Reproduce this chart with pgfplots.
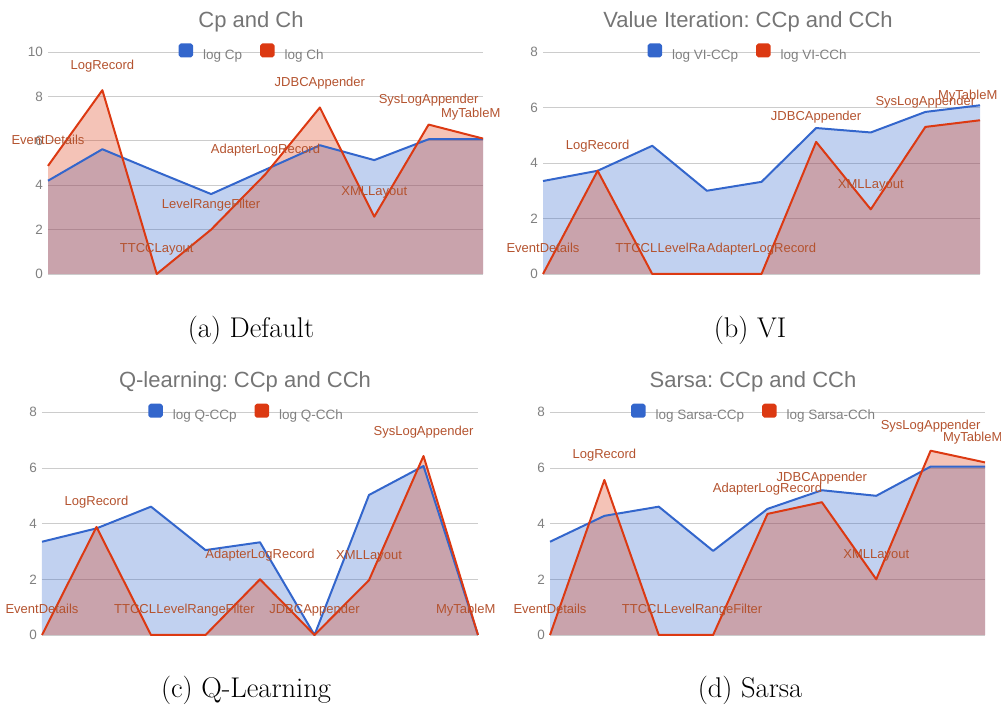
\documentclass[border=0pt]{standalone}
\usepackage{pgfplots}
\usepackage{pgfplotstable}
\pgfplotsset{compat=1.18}
\usepackage{fontspec}
\newfontfamily\gfont{Liberation Sans}
\frenchspacing
\definecolor{cblue}{HTML}{3366CC}
\definecolor{cred}{HTML}{DC3912}
\definecolor{lblred}{HTML}{B4532F}
\definecolor{titlegray}{HTML}{757575}
\definecolor{tickgray}{HTML}{808080}
\definecolor{gridgray}{HTML}{CCCCCC}

\protected\def\TTCCtr{\rlap{TTCCL}\hphantom{TTCCLayout}}
\protected\def\LRFtr{\rlap{LevelRa}\hphantom{LevelRangeFilter}}
\protected\def\MyTr{\rlap{MyTableM}\hphantom{MyTableModel}}

\pgfplotstableread{
x cp ch lbl
0 4.20 4.87 EventDetails
1 5.62 8.28 LogRecord
2 4.60 0 TTCCLayout
3 3.60 2.00 LevelRangeFilter
4 4.70 4.50 AdapterLogRecord
5 5.80 7.50 JDBCAppender
6 5.13 2.58 XMLLayout
7 6.07 6.73 SysLogAppender
8 6.07 6.10 \MyTr
}\tblA
\pgfplotstableread{
x cp ch lbl
0 3.35 0 EventDetails
1 3.72 3.72 LogRecord
2 4.62 0 \TTCCtr
3 3.00 0 \LRFtr
4 3.32 0 AdapterLogRecord
5 5.26 4.76 JDBCAppender
6 5.10 2.33 XMLLayout
7 5.84 5.30 SysLogAppender
8 6.08 5.54 \MyTr
}\tblB
\pgfplotstableread{
x cp ch lbl
0 3.35 0 EventDetails
1 3.83 3.88 LogRecord
2 4.61 0 \TTCCtr
3 3.05 0 LevelRangeFilter
4 3.33 2.00 AdapterLogRecord
5 0 0 JDBCAppender
6 5.03 1.97 XMLLayout
7 6.07 6.43 SysLogAppender
8 0 0 \MyTr
}\tblC
\pgfplotstableread{
x cp ch lbl
0 3.35 0 EventDetails
1 4.28 5.57 LogRecord
2 4.61 0 \TTCCtr
3 3.02 0 LevelRangeFilter
4 4.53 4.35 AdapterLogRecord
5 5.20 4.77 JDBCAppender
6 5.00 2.00 XMLLayout
7 6.05 6.62 SysLogAppender
8 6.05 6.20 \MyTr
}\tblD

\pgfplotsset{
  gchart/.style={
    scale only axis,
    anchor=south west,
    xmin=0, xmax=8,
    ymin=0,
    axis line style={draw=none},
    xtick=\empty,
    ymajorgrids,
    major grid style={draw=gridgray, line width=0.8pt},
    major tick length=0pt,
    /pgf/number format/assume math mode=true,
    yticklabel style={font=\gfont\fontsize{13.5}{15}\selectfont, text=tickgray, inner sep=0pt, xshift=-5pt},
    extra y ticks={0}, extra y tick labels={},
    extra y tick style={grid style={draw=black!75, line width=1pt}},
    clip=false,
    legend columns=2,
    legend style={at={(0.467,1)}, anchor=center, draw=none, fill=none,
      font=\gfont\fontsize{13.5}{15}\selectfont, text=tickgray,
      nodes={inner sep=0pt},
      /tikz/every odd column/.append style={column sep=10pt},
      /tikz/every even column/.append style={column sep=18pt}},
  },
  barea/.style={fill=cblue, fill opacity=0.3, draw=none, forget plot},
  rarea/.style={fill=cred, fill opacity=0.3, draw=none, forget plot},
  bline/.style={cblue, line width=2pt, line join=round, mark=none,
    legend image code/.code={\fill[cblue, rounded corners=1.5pt] (0pt,-1.5pt) rectangle (12.5pt,10.5pt);}},
  rline/.style={cred, line width=2pt, line join=round, mark=none,
    legend image code/.code={\fill[cred, rounded corners=1.5pt] (0pt,-1.5pt) rectangle (12.5pt,10.5pt);},
    nodes near coords, point meta=explicit symbolic,
    every node near coord/.append style={font=\gfont\fontsize{13}{15}\selectfont, text=lblred, anchor=base, inner sep=0pt, yshift=21pt}},
}

\begin{document}
\begin{tikzpicture}
\useasboundingbox (0pt,0pt) rectangle (1001pt,708pt);

% (a)
\begin{axis}[gchart, at={(48pt,434pt)}, width=435pt, height=222pt, ymax=10, ytick={0,2,4,6,8,10}]
\addplot[barea] table[x=x,y=cp]{\tblA} \closedcycle;
\addplot[rarea] table[x=x,y=ch]{\tblA} \closedcycle;
\addplot[bline] table[x=x,y=cp]{\tblA};
\addlegendentry{log Cp}
\addplot[rline] table[x=x,y=ch,meta=lbl]{\tblA};
\addlegendentry{log Ch}
\end{axis}

% (b)
\begin{axis}[gchart, at={(543pt,434pt)}, width=437pt, height=222pt, ymax=8, ytick={0,2,4,6,8}]
\addplot[barea] table[x=x,y=cp]{\tblB} \closedcycle;
\addplot[rarea] table[x=x,y=ch]{\tblB} \closedcycle;
\addplot[bline] table[x=x,y=cp]{\tblB};
\addlegendentry{log VI-CCp}
\addplot[rline] table[x=x,y=ch,meta=lbl]{\tblB};
\addlegendentry{log VI-CCh}
\end{axis}

% (c)
\begin{axis}[gchart, at={(42pt,73pt)}, width=436pt, height=222.7pt, ymax=8, ytick={0,2,4,6,8}]
\addplot[barea] table[x=x,y=cp]{\tblC} \closedcycle;
\addplot[rarea] table[x=x,y=ch]{\tblC} \closedcycle;
\addplot[bline] table[x=x,y=cp]{\tblC};
\addlegendentry{log Q-CCp}
\addplot[rline] table[x=x,y=ch,meta=lbl]{\tblC};
\addlegendentry{log Q-CCh}
\end{axis}

% (d)
\begin{axis}[gchart, at={(550pt,73pt)}, width=435pt, height=222.7pt, ymax=8, ytick={0,2,4,6,8}]
\addplot[barea] table[x=x,y=cp]{\tblD} \closedcycle;
\addplot[rarea] table[x=x,y=ch]{\tblD} \closedcycle;
\addplot[bline] table[x=x,y=cp]{\tblD};
\addlegendentry{log Sarsa-CCp}
\addplot[rline] table[x=x,y=ch,meta=lbl]{\tblD};
\addlegendentry{log Sarsa-CCh}
\end{axis}

% titles
\begin{scope}[every node/.style={anchor=base, font=\gfont\fontsize{22}{26}\selectfont, text=titlegray}]
\node at (251pt,680pt) {Cp and Ch};
\node at (748pt,680pt) {Value Iteration: CCp and CCh};
\node at (245pt,320pt) {Q-learning: CCp and CCh};
\node at (753pt,320pt) {Sarsa: CCp and CCh};
\end{scope}

% captions
\begin{scope}[every node/.style={anchor=base, font=\fontsize{28.5}{34}\selectfont}]
\node at (251pt,370pt) {(a) Default};
\node at (750pt,370pt) {(b) VI};
\node at (246pt,10pt) {(c) Q-Learning};
\node at (750pt,10pt) {(d) Sarsa};
\end{scope}
\end{tikzpicture}
\end{document}
